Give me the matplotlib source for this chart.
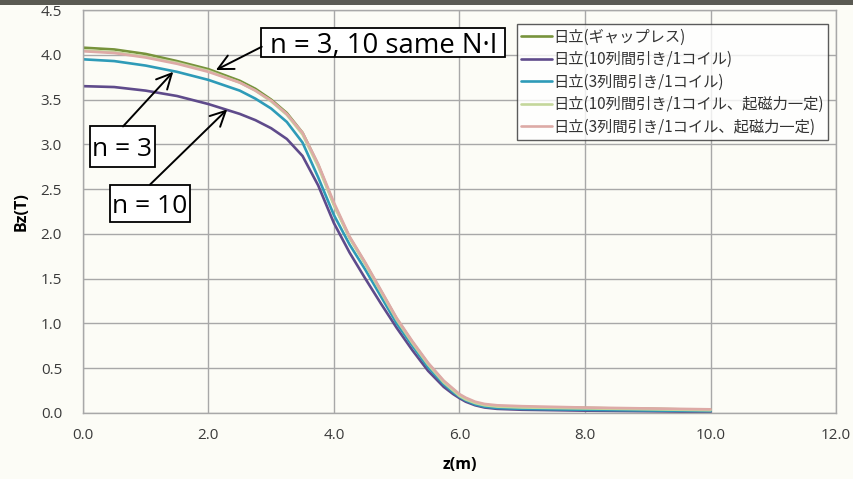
import matplotlib
matplotlib.use("Agg")
import matplotlib.pyplot as plt
from matplotlib.patches import Rectangle

plt.rcParams['font.family'] = ['Noto Sans CJK JP', 'DejaVu Sans']

z = [0, 0.5, 1.0, 1.5, 2.0, 2.5, 2.75, 3.0, 3.25, 3.5, 3.75, 4.0, 4.25, 4.5, 4.75,
     5.0, 5.25, 5.5, 5.75, 5.9, 6.0, 6.1, 6.25, 6.4, 6.6, 7.0, 8.0, 9.0, 10.0]

bz_gapless = [4.08, 4.06, 4.01, 3.93, 3.84, 3.71, 3.62, 3.50, 3.35, 3.13, 2.77, 2.33, 1.96, 1.67, 1.36,
              1.05, 0.79, 0.55, 0.35, 0.26, 0.20, 0.16, 0.115, 0.09, 0.075, 0.065, 0.055, 0.045, 0.035]
bz_n10 = [3.65, 3.64, 3.60, 3.54, 3.45, 3.34, 3.27, 3.18, 3.06, 2.87, 2.54, 2.12, 1.79, 1.50, 1.22,
          0.95, 0.70, 0.47, 0.29, 0.21, 0.165, 0.125, 0.085, 0.06, 0.045, 0.035, 0.025, 0.018, 0.01]
bz_n3 = [3.95, 3.93, 3.88, 3.81, 3.72, 3.60, 3.51, 3.40, 3.25, 3.02, 2.63, 2.21, 1.88, 1.60, 1.30,
         1.00, 0.75, 0.51, 0.32, 0.23, 0.18, 0.14, 0.095, 0.07, 0.055, 0.045, 0.035, 0.027, 0.02]
bz_n10_same = [4.05, 4.03, 3.98, 3.91, 3.82, 3.69, 3.60, 3.48, 3.33, 3.11, 2.75, 2.32, 1.95, 1.66, 1.35,
               1.04, 0.78, 0.54, 0.34, 0.25, 0.19, 0.15, 0.11, 0.085, 0.07, 0.06, 0.05, 0.04, 0.03]
bz_n3_same = [4.04, 4.02, 3.97, 3.90, 3.81, 3.69, 3.60, 3.49, 3.34, 3.13, 2.78, 2.35, 1.97, 1.68, 1.37,
              1.06, 0.80, 0.56, 0.36, 0.27, 0.21, 0.17, 0.125, 0.10, 0.085, 0.075, 0.06, 0.05, 0.04]

series = [
    ("日立(ギャップレス)", bz_gapless, "#77933C"),
    ("日立(10列間引き/1コイル)", bz_n10, "#5F4B8B"),
    ("日立(3列間引き/1コイル)", bz_n3, "#2E9BB8"),
    ("日立(10列間引き/1コイル、起磁力一定)", bz_n10_same, "#C4D79B"),
    ("日立(3列間引き/1コイル、起磁力一定)", bz_n3_same, "#DDAAA6"),
]

x_ticks = [0, 2, 4, 6, 8, 10, 12]
y_ticks = [0, 0.5, 1.0, 1.5, 2.0, 2.5, 3.0, 3.5, 4.0, 4.5]

bg = "#fcfcf6"
fig = plt.figure(figsize=(8.54, 4.79), dpi=100, facecolor=bg)
ax = fig.add_axes([0.097, 0.138, 0.882, 0.841], facecolor=bg)

for label, vals, col in series:
    ax.plot(z, vals, color=col, lw=1.9, label=label, solid_capstyle='round', solid_joinstyle='round')

lat = ['Open Sans', 'DejaVu Sans']
ax.set_xlim(0, 12)
ax.set_ylim(0, 4.5)
ax.set_xticks(x_ticks)
ax.set_xticklabels([f"{v:.1f}" for v in x_ticks], family=lat, fontsize=11, color="#3a3a3a")
ax.set_yticks(y_ticks)
ax.set_yticklabels([f"{v:.1f}" for v in y_ticks], family=lat, fontsize=11, color="#3a3a3a")
ax.tick_params(axis='x', length=0, pad=11)
ax.tick_params(axis='y', length=0, pad=15)
ax.grid(True, color="#a8a8a8", lw=1.0)
ax.set_axisbelow(True)
for s in ax.spines.values():
    s.set_color("#a8a8a8")
    s.set_linewidth(1.0)

ax.set_xlabel("z(m)", fontweight='bold', fontsize=11.5, family=lat, labelpad=10)
ax.set_ylabel("Bz(T)", fontweight='bold', fontsize=11.5, family=lat, labelpad=8)

leg = fig.legend(loc='upper left', bbox_to_anchor=(0.605, 0.950), frameon=True, fancybox=False,
                 fontsize=11.0, handlelength=2.0, handletextpad=0.08, labelspacing=0.36,
                 borderpad=0.3, borderaxespad=0)
leg.get_frame().set_edgecolor("#333333")
leg.get_frame().set_linewidth(1.0)
leg.get_frame().set_facecolor("white")
for t in leg.get_texts():
    t.set_color("#333333")

# annotation boxes (data coordinates)
boxes = [
    ("n = 3, 10 same N·I", (2.84, 3.98, 6.73, 4.30), 19.8),
    ("n = 3", (0.11, 2.75, 1.15, 3.20), 19),
    ("n = 10", (0.43, 2.13, 1.71, 2.55), 19),
]
for txt, (x0, y0, x1, y1), fs in boxes:
    ax.add_patch(Rectangle((x0, y0), x1 - x0, y1 - y0, facecolor='white', edgecolor='black',
                           lw=1.3, zorder=9))
    ax.text((x0 + x1) / 2, (y0 + y1) / 2, txt, fontsize=fs, family=lat, ha='center',
            va='center_baseline', zorder=10)

arrows = [
    ((2.12, 3.83), (2.85, 4.09)),
    ((1.44, 3.81), (0.64, 3.20)),
    ((2.30, 3.39), (1.07, 2.55)),
]
arr = dict(arrowstyle='->,head_length=0.6,head_width=0.3', color='black', lw=1.4,
           mutation_scale=18, shrinkA=0, shrinkB=0)
for tip, start in arrows:
    ax.annotate("", xy=tip, xytext=start, textcoords='data', arrowprops=arr, zorder=10)

# dark scan edge at the top
fig.patches.append(Rectangle((0, 1 - 5/479), 1, 5/479, transform=fig.transFigure,
                             facecolor="#5a5a52", edgecolor='none', zorder=20))

fig.savefig("out.png", dpi=100, facecolor=bg)
